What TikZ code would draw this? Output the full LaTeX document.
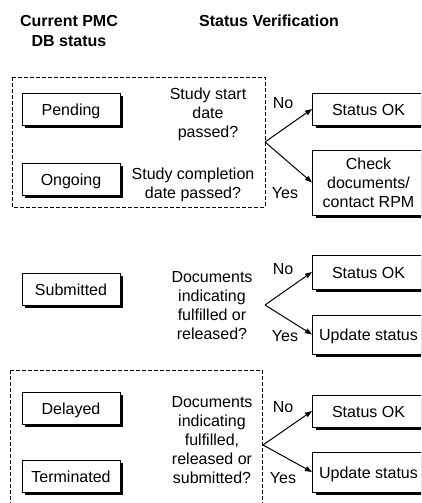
\documentclass[tikz,border=0pt]{standalone}
\usepackage{fontspec}
\setmainfont{Liberation Sans}[Ligatures=NoCommon]
\usetikzlibrary{arrows.meta,shadows}
% result boxes run past the right margin: the text stays centred in the
% first 112pt of the box, the rest of the box is padding
\newcommand\resultlabel[1]{\makebox[112pt]{#1}\hspace*{20pt}}
\newcommand\resultlines[1]{\parbox[c]{112pt}{\centering #1}\hspace*{20pt}}
\begin{document}
\begin{tikzpicture}[x=1pt,y=-1pt,
  every node/.style={font=\fontsize{16}{19}\selectfont, inner sep=0pt},
  framebox/.style={draw, line width=1pt, fill=white,
    drop shadow={shadow xshift=3pt, shadow yshift=-3pt, fill=black, opacity=1}},
  statusbox/.style={framebox, minimum width=98pt, minimum height=32pt,
    text height=13pt, text depth=1pt},
  resultbox/.style={framebox, anchor=west, text height=13pt, text depth=1pt},
  % multi-line texts are placed by the baseline of their last line
  question/.style={align=center, anchor=base},
  answer/.style={anchor=base},
  header/.style={align=center, anchor=base, font=\fontsize{16}{20}\selectfont\bfseries},
  group/.style={draw, line width=0.8pt, dash pattern=on 4pt off 2pt},
  branch/.style={line width=1pt, -{Triangle[length=7pt,width=5pt]}}
]
\useasboundingbox (0,0) rectangle (421,503);
\clip (0,0) rectangle (421,503);

% column headings
\node[header] (hcur) at (69,47) {Current PMC\\DB status};
\node[header] (hver) at (269,27) {Status Verification};

% Pending / Ongoing
\draw[group] (12,77) rectangle (265,207);
\node[statusbox] (pending) at (71,109) {Pending};
\node[statusbox] (ongoing) at (71,179) {Ongoing};
\node[question] (q1a) at (208,137) {Study start\\date\\passed?};
\node[question] (q1b) at (193,198) {Study completion\\date passed?};
\coordinate (b1) at (265,142);
\node[answer] (no1) at (283,108) {No};
\node[answer] (yes1) at (285,198) {Yes};
\node[resultbox, minimum height=32pt] (ok1) at (312,109) {\resultlabel{Status OK}};
\node[framebox, anchor=west, minimum height=65pt] (check1) at (312,182.5)
  {\resultlines{Check\\documents/\\contact RPM}};
\draw[branch] (b1) -- (ok1.west);
\draw[branch] (b1) -- (check1.west);

% Submitted
\node[statusbox] (submitted) at (71,289) {Submitted};
\node[question] (q2) at (212,339) {Documents\\indicating\\fulfilled or\\released?};
\coordinate (b2) at (265,305);
\node[answer] (no2) at (283,274) {No};
\node[answer] (yes2) at (285,341) {Yes};
\node[resultbox, minimum height=34pt] (ok2) at (312,272) {\resultlabel{Status OK}};
\node[resultbox, minimum height=39pt] (upd2) at (312,334.5) {\resultlabel{Update status}};
\draw[branch] (b2) -- (ok2.west);
\draw[branch] (b2) -- (upd2.west);

% Delayed / Terminated
\draw[group] (10,370) rectangle (262,510);
\node[statusbox] (delayed) at (71,408) {Delayed};
\node[statusbox] (terminated) at (71,476) {Terminated};
\node[question] (q3) at (212,483) {Documents\\indicating\\fulfilled,\\released or\\submitted?};
\coordinate (b3) at (263,445);
\node[answer] (no3) at (283,412) {No};
\node[answer] (yes3) at (283,483) {Yes};
\node[resultbox, minimum height=32pt] (ok3) at (312,411) {\resultlabel{Status OK}};
\node[resultbox, minimum height=40pt] (upd3) at (312,472) {\resultlabel{Update status}};
\draw[branch] (b3) -- (ok3.west);
\draw[branch] (b3) -- (upd3.west);
\end{tikzpicture}
\end{document}
